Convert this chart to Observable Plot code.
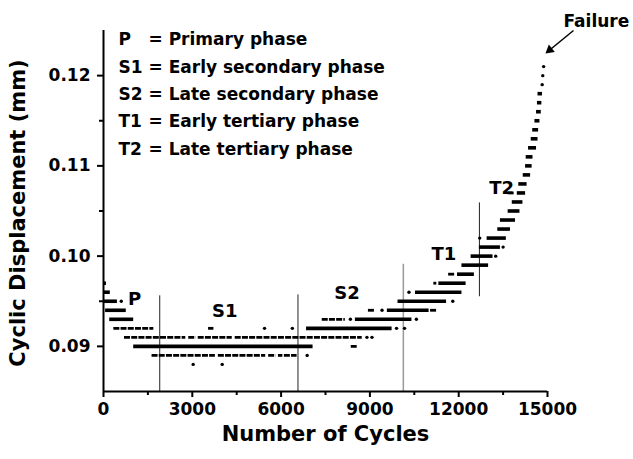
<!DOCTYPE html>
<html><head><meta charset="utf-8">
<script src="https://cdn.jsdelivr.net/npm/d3@7"></script>
<script src="https://cdn.jsdelivr.net/npm/@observablehq/plot@0.6"></script>
<style>body{margin:0;background:#fff} #chart svg text{font-weight:bold !important}</style>
</head><body><div id="chart"></div>
<script>
// Axis ticks
const xTicks = [0, 3000, 6000, 9000, 12000, 15000];
const xMinorTicks = [1500, 4500, 7500, 10500, 13500];
const yTicks = [0.09, 0.10, 0.11, 0.12];
const yMinorTicks = [0.095, 0.105, 0.115];

// Dense runs of measured points: displacement level, first cycle, last cycle
const denseLevel = [0.097, 0.096, 0.095, 0.094, 0.093, 0.090, 0.092, 0.093, 0.094, 0.095, 0.096, 0.097, 0.098, 0.099, 0.100, 0.101, 0.102, 0.103, 0.104, 0.105, 0.106, 0.107, 0.108, 0.109, 0.110, 0.111, 0.112, 0.113, 0.114, 0.115, 0.116, 0.117, 0.118];
const denseStart = [0, 0, 0, 70, 210, 1020, 6860, 8510, 9590, 9950, 10540, 11330, 11960, 12110, 12420, 12700, 12960, 13320, 13410, 13670, 13810, 13980, 14030, 14180, 14260, 14280, 14360, 14450, 14500, 14575, 14630, 14660, 14680];
const denseEnd = [100, 230, 470, 770, 1020, 7080, 9750, 10420, 11000, 11590, 12110, 12250, 12530, 13010, 13160, 13410, 13610, 13750, 13920, 14070, 14170, 14260, 14310, 14430, 14480, 14510, 14630, 14680, 14700, 14745, 14790, 14810, 14830];

// Sparse (dotted) runs
const sparseLevel = [0.092, 0.091, 0.091, 0.091, 0.091, 0.089, 0.089, 0.089, 0.089, 0.089, 0.092, 0.090, 0.093, 0.094, 0.094, 0.097, 0.098, 0.107];
const sparseStart = [350, 710, 2880, 3200, 4450, 1640, 3880, 5580, 5910, 6110, 3550, 8370, 7390, 8950, 11050, 11160, 11660, 13670];
const sparseEnd = [1700, 2780, 3130, 4350, 8740, 3780, 5480, 5830, 6060, 6540, 3730, 8570, 8170, 9190, 11280, 11260, 11900, 13910];

// Isolated points
const dotLevel = [0.095, 0.092, 0.092, 0.091, 0.091, 0.089, 0.088, 0.088, 0.092, 0.092, 0.093, 0.093, 0.094, 0.095, 0.096, 0.100, 0.101, 0.102, 0.119, 0.120, 0.121];
const dotCycle = [600, 5440, 6380, 8900, 9070, 6880, 3030, 4010, 9900, 10170, 8340, 10570, 9410, 11800, 10320, 13250, 13500, 12710, 14820, 14840, 14870];

// Phase boundaries
const phaseCycle = [1900, 6570, 10130, 12700];
const phaseTop = [0.0956, 0.0957, 0.0991, 0.1059];
const phaseBottom = [0.085, 0.085, 0.085, 0.0955];

// Phase labels
const phaseLabel = ["P", "S1", "S2", "T1", "T2"];
const phaseLabelCycle = [1050, 4100, 8230, 11500, 13450];
const phaseLabelLevel = [0.0952, 0.0939, 0.0959, 0.1002, 0.10755];

// Legend
const legendCodes = ["P", "S1", "S2", "T1", "T2"];
const legendNames = ["Primary phase", "Early secondary phase", "Late secondary phase", "Early tertiary phase", "Late tertiary phase"];

// Failure annotation
const failureText = "Failure";
const failureAt = [16650, 0.126];
const arrowFrom = [15878, 0.125];
const arrowHead = [15074, 0.12284];

const idx = a => a.map((_, i) => i);

const chart = Plot.plot({
  width: 633, height: 459,
  marginLeft: 103, marginRight: 86, marginTop: 30, marginBottom: 68,
  x: {domain: [0, 15000]},
  y: {domain: [0.085, 0.125]},
  style: {fontFamily: "DejaVu Sans", fontWeight: "bold", fontSize: "17px", color: "#000", background: "#fff", overflow: "visible"},
  marks: [
    // phase boundary lines
    Plot.ruleX(idx(phaseCycle), {x: i => phaseCycle[i], y1: i => phaseBottom[i], y2: i => phaseTop[i],
      stroke: i => i === 2 ? "#9a9a9a" : "#222", strokeWidth: i => i === 2 ? 1.5 : 1}),
    // data
    Plot.ruleY(idx(sparseLevel), {y: i => sparseLevel[i], x1: i => sparseStart[i], x2: i => sparseEnd[i],
      stroke: "#000", strokeWidth: 2.8, strokeDasharray: "6,1.2"}),
    Plot.ruleY(idx(denseLevel), {y: i => denseLevel[i], x1: i => denseStart[i], x2: i => denseEnd[i],
      stroke: "#000", strokeWidth: 3.6}),
    Plot.dot(idx(dotLevel), {x: i => dotCycle[i], y: i => dotLevel[i], r: 1.7, fill: "#000", stroke: null}),
    // axes
    Plot.ruleX([0], {y1: 0.085, y2: 0.125, stroke: "#000", strokeWidth: 2}),
    Plot.ruleY([0.085], {x1: 0, x2: 15000, stroke: "#000", strokeWidth: 2}),
    Plot.axisX(xTicks, {tickSize: 6, tickPadding: 5, strokeWidth: 2, tickFormat: d => String(d), label: null, fontSize: 17, fontWeight: "bold"}),
    Plot.axisX(xMinorTicks, {tickSize: 4, strokeWidth: 2, tickFormat: () => "", label: null}),
    Plot.axisY(yTicks, {tickSize: 6, tickPadding: 7, strokeWidth: 2, tickFormat: d3.format(".2f"), label: null, fontSize: 17, fontWeight: "bold"}),
    Plot.axisY(yMinorTicks, {tickSize: 4, strokeWidth: 2, tickFormat: () => "", label: null}),
    // axis titles
    Plot.text(["Number of Cycles"], {frameAnchor: "bottom", dy: 43, lineAnchor: "middle", fontSize: 21, fontWeight: "bold"}),
    Plot.text(["Cyclic Displacement (mm)"], {frameAnchor: "left", dx: -85, dy: 2, rotate: -90, textAnchor: "middle", lineAnchor: "middle", fontSize: 21, fontWeight: "bold"}),
    // phase labels
    Plot.text(idx(phaseLabel), {x: i => phaseLabelCycle[i], y: i => phaseLabelLevel[i], text: i => phaseLabel[i],
      lineAnchor: "middle", fontSize: 18, fontWeight: "bold"}),
    // legend
    Plot.text([legendCodes.join("\n")], {frameAnchor: "top-left", dx: 15, dy: -4.4, lineAnchor: "top", lineHeight: 1.606, textAnchor: "start", fontSize: 17}),
    Plot.text([legendNames.map(d => "= " + d).join("\n")], {frameAnchor: "top-left", dx: 45, dy: -4.4, lineAnchor: "top", lineHeight: 1.606, textAnchor: "start", fontSize: 17}),
    // failure annotation
    Plot.text([failureText], {x: failureAt[0], y: failureAt[1], lineAnchor: "middle", fontSize: 17}),
    Plot.link([0], {x1: arrowFrom[0], y1: arrowFrom[1], x2: arrowHead[0], y2: arrowHead[1], stroke: "#000", strokeWidth: 1.5}),
    Plot.dot([0], {x: arrowHead[0], y: arrowHead[1], symbol: "triangle", r: 3.5, rotate: 230.6, fill: "#000", stroke: null})
  ]
});
document.getElementById("chart").append(chart);
</script>
</body></html>
